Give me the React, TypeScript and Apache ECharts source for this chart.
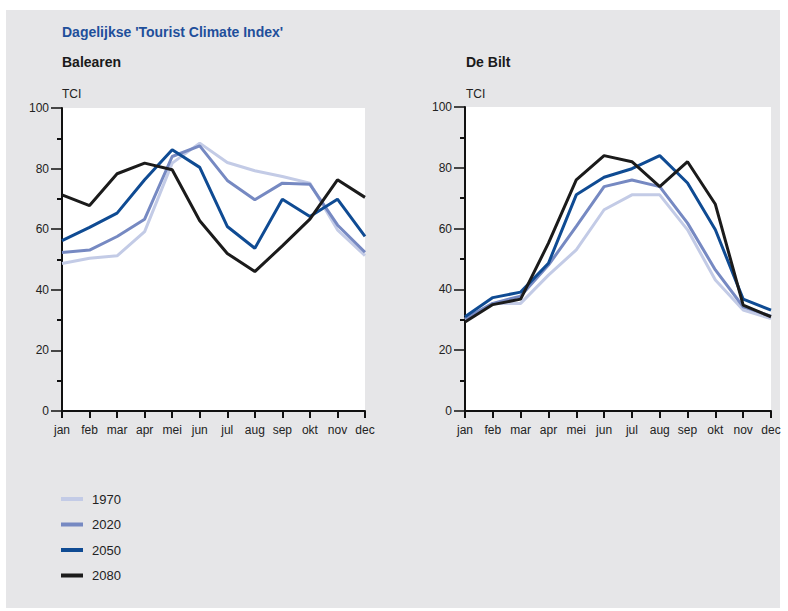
import React, { useEffect, useRef } from "react";
import * as echarts from "echarts";

const months = ["jan", "feb", "mar", "apr", "mei", "jun", "jul", "aug", "sep", "okt", "nov", "dec"];
const yearNames = ["1970", "2020", "2050", "2080"];
const yearColors = ["#c3cbe6", "#7689c2", "#0f4b93", "#1b1b1b"];

const balearen1970 = [48.7, 50.4, 51.2, 59.2, 81.8, 88.4, 82.0, 79.3, 77.4, 75.2, 59.8, 51.3];
const balearen2020 = [52.3, 53.1, 57.6, 63.3, 84.0, 87.5, 76.1, 69.7, 75.2, 74.8, 61.4, 52.4];
const balearen2050 = [56.2, 60.6, 65.3, 76.3, 86.2, 80.4, 60.9, 53.7, 69.9, 64.2, 69.9, 57.6];
const balearen2080 = [71.3, 67.8, 78.3, 81.8, 79.6, 62.8, 52.0, 46.0, 54.5, 63.3, 76.3, 70.5];

const debilt1970 = [30.1, 35.4, 35.4, 44.7, 53.0, 66.2, 71.1, 71.1, 59.6, 43.1, 33.2, 30.4];
const debilt2020 = [30.4, 35.4, 37.8, 48.0, 60.7, 73.8, 76.0, 73.8, 61.8, 46.4, 34.3, 31.2];
const debilt2050 = [31.0, 37.3, 39.1, 48.6, 71.1, 76.9, 79.7, 84.0, 75.0, 59.6, 36.8, 33.2];
const debilt2080 = [29.3, 35.0, 36.8, 55.2, 76.0, 84.0, 82.0, 73.8, 82.0, 68.0, 34.8, 31.0];

const balearenData = [balearen1970, balearen2020, balearen2050, balearen2080];
const debiltData = [debilt1970, debilt2020, debilt2050, debilt2080];

const FONT = "'Liberation Sans', Arial, sans-serif";

export default function App() {
  const ref = useRef<HTMLDivElement>(null);
  useEffect(() => {
    if (!ref.current) return;
    const chart = echarts.init(ref.current, null, { renderer: "svg" });

    const xAxisBase = (gridIndex: number) => ({
      type: "category",
      gridIndex,
      data: months,
      boundaryGap: false,
      axisLine: { show: true, lineStyle: { color: "#111", width: 2 } },
      axisTick: { show: true, length: 7, lineStyle: { color: "#111", width: 2 }, alignWithLabel: true },
      axisLabel: { color: "#222", fontSize: 12, fontFamily: FONT, margin: 13, interval: 0 },
      splitLine: { show: false },
    });
    const yAxisBase = (gridIndex: number) => ({
      type: "value",
      gridIndex,
      min: 0,
      max: 100,
      interval: 20,
      axisLine: { show: true, lineStyle: { color: "#111", width: 2 } },
      axisTick: { show: true, length: 11, lineStyle: { color: "#111", width: 1.5 } },
      minorTick: { show: true, splitNumber: 2, length: 5, lineStyle: { color: "#111", width: 2 } },
      axisLabel: { color: "#222", fontSize: 12, fontFamily: FONT, margin: 13 },
      splitLine: { show: false },
      minorSplitLine: { show: false },
    });

    const makeSeries = (data: number[][], idx: number) =>
      data.map((vals, i) => ({
        name: yearNames[i],
        type: "line",
        xAxisIndex: idx,
        yAxisIndex: idx,
        data: vals,
        symbol: "none",
        showSymbol: false,
        lineStyle: { color: yearColors[i], width: 3 },
        itemStyle: { color: yearColors[i] },
        z: 2 + i,
      }));

    chart.setOption({
      animation: false,
      backgroundColor: "#ffffff",
      grid: [
        { left: 62, top: 108, width: 303, height: 303, show: true, backgroundColor: "#ffffff", borderWidth: 0 },
        { left: 465, top: 107, width: 306, height: 304, show: true, backgroundColor: "#ffffff", borderWidth: 0 },
      ],
      xAxis: [xAxisBase(0), xAxisBase(1)],
      yAxis: [yAxisBase(0), yAxisBase(1)],
      legend: {
        orient: "vertical",
        left: 56,
        top: 487,
        icon: "rect",
        itemWidth: 22,
        itemHeight: 4,
        itemGap: 11.5,
        data: yearNames,
        textStyle: { color: "#222", fontSize: 13, fontFamily: FONT, lineHeight: 14, padding: [0, 0, 0, 4] },
      },
      graphic: [
        {
          type: "rect",
          z: -10,
          silent: true,
          shape: { x: 6, y: 10, width: 774, height: 598 },
          style: { fill: "#e6e6e8" },
        },
        {
          type: "text",
          left: 62,
          top: 25,
          style: { text: "Dagelijkse 'Tourist Climate Index'", fill: "#1f4f9b", font: `bold 14px ${FONT}` },
        },
        {
          type: "text",
          left: 62,
          top: 55,
          style: { text: "Balearen", fill: "#1a1a1a", font: `bold 14px ${FONT}` },
        },
        {
          type: "text",
          left: 466,
          top: 55,
          style: { text: "De Bilt", fill: "#1a1a1a", font: `bold 14px ${FONT}` },
        },
        {
          type: "text",
          left: 62,
          top: 88,
          style: { text: "TCI", fill: "#222", font: `12px ${FONT}` },
        },
        {
          type: "text",
          left: 466,
          top: 88,
          style: { text: "TCI", fill: "#222", font: `12px ${FONT}` },
        },
      ],
      series: [...makeSeries(balearenData, 0), ...makeSeries(debiltData, 1)],
    });
    return () => chart.dispose();
  }, []);
  return (
    <div
      ref={ref}
      style={{ position: "fixed", left: 0, top: 0, width: 788, height: 611 }}
    />
  );
}
